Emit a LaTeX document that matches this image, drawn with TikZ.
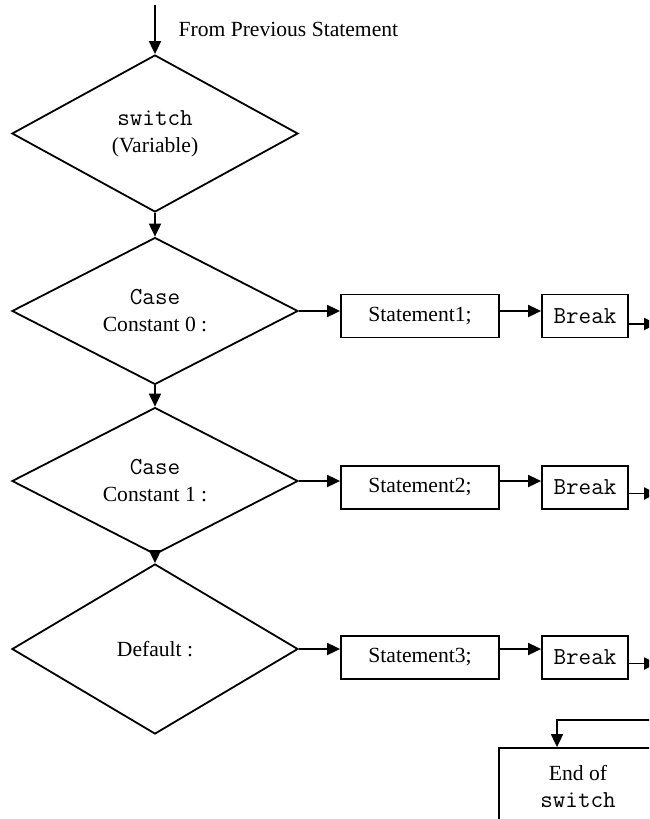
\documentclass[tikz,border=0pt]{standalone}
\usepackage{fontspec}
\setmainfont{Liberation Serif}
\usetikzlibrary{shapes.geometric}
\usetikzlibrary{arrows.meta}
\usetikzlibrary{calc}
\newcommand{\code}[1]{{\fontsize{12.2}{13.5}\selectfont\ttfamily #1}}

\begin{document}
\begin{tikzpicture}[x=0.5pt, y=-0.5pt, line width=0.9pt,
                    font=\fontsize{10.8}{13.5}\selectfont]
              \tikzset{decision/.style={draw, diamond, inner sep=0pt, minimum width=143pt, align=center},
                       block/.style={draw, rectangle, minimum width=79pt, minimum height=21.5pt, align=center},
                       brk/.style={draw, rectangle, minimum width=43pt, minimum height=21.5pt},
                       arr/.style={-{Triangle[length=6.5pt,width=6pt]}}}

              \def\DX{155}
              \def\SX{420}
              \def\BX{585}

              \useasboundingbox (0,0) rectangle (649,819);
              \clip (0,0) rectangle (649,819);

              % the decisions
              \node[decision, minimum height=78.5pt] (sw) at (\DX,133.5) {\code{switch}\\(Variable)};
              \node[decision, minimum height=71pt] (c0) at (\DX,311) {\code{Case}\\Constant 0 :};
              \node[decision, minimum height=71pt] (c1) at (\DX,481) {\code{Case}\\Constant 1 :};
              \node[decision, minimum height=85pt] (df) at (\DX,649) {Default :};

              \coordinate (start) at (\DX,5);
              \node[anchor=west] (prev) at (171,29) {From Previous Statement};

              \draw[arr] (start) -- (sw.north);
              \draw[arr] (sw.south) -- (c0.north);
              \draw[arr] (c0.south) -- (c1.north);
              \draw[arr] (c1.south) -- (df.north);

              % the statements and breaks
              \node[block] (st1) at (\SX,316) {Statement1;};
              \node[block] (st2) at (\SX,487.5) {Statement2;};
              \node[block] (st3) at (\SX,657.5) {Statement3;};

              \node[brk] (br1) at (\BX,316) {\code{Break}};
              \node[brk] (br2) at (\BX,487.5) {\code{Break}};
              \node[brk] (br3) at (\BX,657.5) {\code{Break}};

              \draw[arr] (c0.east) -- (c0.east -| st1.west);
              \draw[arr] (c1.east) -- (c1.east -| st2.west);
              \draw[arr] (df.east) -- (df.east -| st3.west);

              \draw[arr] (c0.east -| st1.east) -- (c0.east -| br1.west);
              \draw[arr] (c1.east -| st2.east) -- (c1.east -| br2.west);
              \draw[arr] (df.east -| st3.east) -- (df.east -| br3.west);

              \coordinate (out1) at (657,324);
              \coordinate (out2) at (657,493.5);
              \coordinate (out3) at (657,663.5);
              \draw[arr] (br1.east |- out1) -- (out1);
              \draw[arr] (br2.east |- out2) -- (out2);
              \draw[arr] (br3.east |- out3) -- (out3);

              % the end
              \node[block, minimum height=38pt] (endsw) at (578,786) {End of\\\code{switch}};
              \coordinate (ret) at (660,720);
              \draw[arr] (ret) -| ([xshift=-10.5pt]endsw.north);
            \end{tikzpicture}
\end{document}
